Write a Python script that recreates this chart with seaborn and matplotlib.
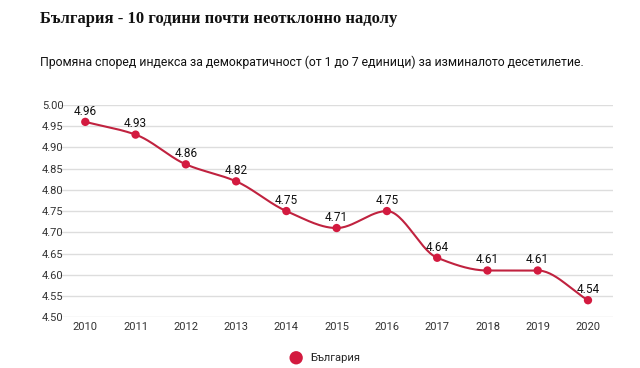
import numpy as np
import pandas as pd
import seaborn as sns
import matplotlib.pyplot as plt

# Data
years = ['2010', '2011', '2012', '2013', '2014', '2015', '2016', '2017', '2018', '2019', '2020']
values = [4.96, 4.93, 4.86, 4.82, 4.75, 4.71, 4.75, 4.64, 4.61, 4.61, 4.54]
series_name = 'България'
y_ticks = [4.50, 4.55, 4.60, 4.65, 4.70, 4.75, 4.80, 4.85, 4.90, 4.95, 5.00]

df = pd.DataFrame({'year': years, 'value': values})
df['pos'] = np.arange(len(df))

sns.set_theme(style='white')
plt.rcParams['font.family'] = ['Roboto', 'DejaVu Sans']

red = '#d31a3f'
line_red = '#c0223f'


def monotone_curve(x, y, n=30):
    # Fritsch-Carlson monotone cubic, used only to draw the smooth line
    x = np.asarray(x, float)
    y = np.asarray(y, float)
    h = np.diff(x)
    d = np.diff(y) / h
    m = np.zeros_like(y)
    m[0], m[-1] = d[0], d[-1]
    for k in range(1, len(y) - 1):
        if d[k - 1] * d[k] <= 0:
            m[k] = 0
        else:
            w1 = 2 * h[k] + h[k - 1]
            w2 = h[k] + 2 * h[k - 1]
            m[k] = (w1 + w2) / (w1 / d[k - 1] + w2 / d[k])
    xs, ys = [], []
    for k in range(len(y) - 1):
        t = np.linspace(0, 1, n)
        h00 = 2 * t**3 - 3 * t**2 + 1
        h10 = t**3 - 2 * t**2 + t
        h01 = -2 * t**3 + 3 * t**2
        h11 = t**3 - t**2
        xs.append(x[k] + t * h[k])
        ys.append(h00 * y[k] + h10 * h[k] * m[k] + h01 * y[k + 1] + h11 * h[k] * m[k + 1])
    return np.concatenate(xs), np.concatenate(ys)


fig = plt.figure(figsize=(6.4, 3.68), dpi=100)
ax = fig.add_axes([0.094, 0.138, 0.864, 0.577])

cx, cy = monotone_curve(df['pos'], df['value'])
ax.plot(cx, cy, color=line_red, lw=1.5, zorder=2)
sns.scatterplot(data=df, x='pos', y='value', color=red, s=36, edgecolor='none',
                zorder=3, ax=ax, label=series_name)

for _, r in df.iterrows():
    ax.annotate(f"{r['value']:.2f}", (r['pos'], r['value']), xytext=(0, 3),
                textcoords='offset points', ha='center', va='bottom',
                fontsize=8.5, color='#111111', zorder=4)

ax.set_xlim(-0.5, 10.5)
ax.set_ylim(4.50, 5.00)
ax.set_xticks(df['pos'])
ax.set_xticklabels(years)
ax.set_yticks(y_ticks)
ax.set_yticklabels([f'{v:.2f}' for v in y_ticks])
ax.tick_params(axis='both', labelsize=8, colors='#333333', length=0)
ax.tick_params(axis='y', pad=-2)
for lbl in ax.get_yticklabels():
    lbl.set_horizontalalignment('left')
    lbl.set_x(-0.038)
ax.grid(axis='y', color='#dddddd', lw=1)
ax.set_axisbelow(True)
ax.set_xlabel('')
ax.set_ylabel('')
sns.despine(ax=ax, left=True, bottom=True, top=True, right=True)

ax.legend(loc='upper center', bbox_to_anchor=(0.475, -0.12), frameon=False,
          fontsize=8, handletextpad=0.3, markerscale=1.6)

fig.text(0.0625, 0.948, 'България - 10 години почти неотклонно надолу',
         family=['Liberation Serif', 'DejaVu Serif'], fontweight='bold',
         fontsize=12, color='#111111', va='center')
fig.text(0.0625, 0.832, 'Промяна според индекса за демократичност (от 1 до 7 единици) за изминалото десетилетие.',
         fontsize=8.8, color='#111111', va='center')

fig.savefig('out.png', dpi=100)
